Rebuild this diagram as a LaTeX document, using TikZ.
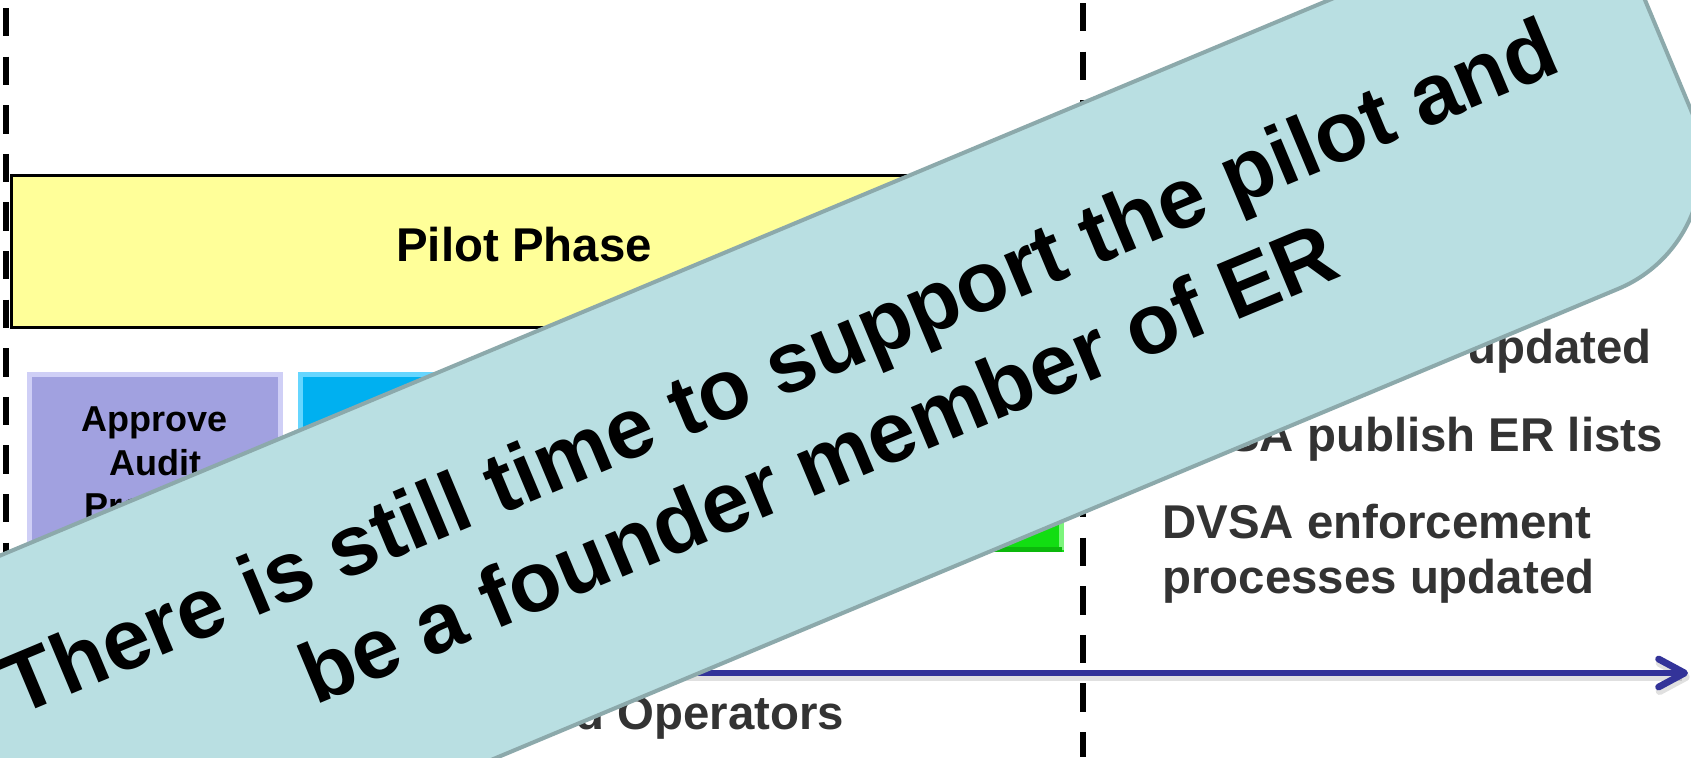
\documentclass[tikz,border=0pt]{standalone}
\usepackage{fontspec}
\setmainfont{Liberation Sans}
\usetikzlibrary{arrows.meta}
\definecolor{phaseyellow}{HTML}{FFFF99}
\definecolor{approvepurple}{HTML}{A1A1E0}
\definecolor{approvelight}{HTML}{CFCFF6}
\definecolor{approvedark}{HTML}{8C8CCC}
\definecolor{stepblue}{HTML}{00B0F0}
\definecolor{steplightblue}{HTML}{66D6FF}
\definecolor{stepdarkblue}{HTML}{0096D0}
\definecolor{stepgreen}{HTML}{12DE12}
\definecolor{steplightgreen}{HTML}{7CF57C}
\definecolor{stepdarkgreen}{HTML}{0CB80C}
\definecolor{bannerfill}{HTML}{B9DFE2}
\definecolor{bannerline}{HTML}{8CA9AB}
\definecolor{notegray}{HTML}{333333}
\definecolor{axisblue}{HTML}{333399}
\newcommand\ctrline[1]{\hbox to 0pt{\hss #1\hss}}
\begin{document}
\begin{tikzpicture}[x=0.5pt,y=-0.5pt,
  sepline/.style={line width=3.25pt, dash pattern=on 14.2pt off 10.1pt},
  phasebox/.style={draw=black, line width=1.5pt, fill=phaseyellow, minimum width=513pt,
    minimum height=76pt, inner sep=0pt, text height=17pt, text depth=6.3pt,
    font=\fontsize{23.7}{27.5}\selectfont\bfseries},
  stepbox/.style={inner sep=0pt, minimum height=90pt, font=\fontsize{18}{21.65}\selectfont\bfseries},
  bevellight/.style={line width=2.5pt},
  beveldark/.style={line width=2.5pt},
  note/.style={anchor=base west, inner sep=0pt, text=notegray, font=\fontsize{23.7}{27.5}\selectfont\bfseries},
  timeline/.style={draw=axisblue, line width=3.4pt, -{Straight Barb[round,length=13pt,width=14pt]}},
  timelineshadow/.style={draw=black, opacity=0.12, line width=4pt, -{Straight Barb[round,length=13pt,width=14pt]}},
  banner/.style={fill=bannerfill, draw=bannerline, line width=2pt, line join=round},
  bannertext/.style={rotate=22.69, anchor=base, inner sep=0pt, font=\fontsize{42.7}{50}\selectfont\bfseries}
]
\useasboundingbox (0,0) rectangle (1691,757);
\clip (0,0) rectangle (1691,757);
\fill[white] (0,0) rectangle (1691,757);

% dashed separators
\coordinate (sepLtop) at (6,8);
\coordinate (sepLbot) at (6,757);
\coordinate (sepRtop) at (1083,3);
\coordinate (sepRbot) at (1083,757);
\draw[sepline] (sepLtop) -- (sepLbot);
\draw[sepline] (sepRtop) -- (sepRbot);

% pilot phase bar
\node[phasebox] (pilot) at (524,251) {Pilot Phase};

% step boxes
\node[stepbox, fill=approvepurple, minimum width=128pt, text height=10pt, text depth=40.3pt] (approve) at (155,462)
  {\vtop{\ctrline{Approve}\ctrline{Audit}\ctrline{Process}}};
\node[stepbox, fill=stepblue, minimum width=191pt] (stepB) at (489,462) {};
\node[stepbox, fill=stepgreen, minimum width=184.5pt] (stepC) at (879.5,462) {};

\draw[bevellight, draw=approvelight] ([shift={(2.5,-2.5)}]approve.south west) -- ([shift={(2.5,2.5)}]approve.north west)
  -- ([shift={(-2.5,2.5)}]approve.north east) -- ([shift={(-2.5,-2.5)}]approve.south east);
\draw[beveldark, draw=approvedark] ([shift={(2.5,-2.5)}]approve.south west) -- ([shift={(-2.5,-2.5)}]approve.south east);
\draw[bevellight, draw=steplightblue] ([shift={(2.5,-2.5)}]stepB.south west) -- ([shift={(2.5,2.5)}]stepB.north west)
  -- ([shift={(-2.5,2.5)}]stepB.north east) -- ([shift={(-2.5,-2.5)}]stepB.south east);
\draw[beveldark, draw=stepdarkblue] ([shift={(2.5,-2.5)}]stepB.south west) -- ([shift={(-2.5,-2.5)}]stepB.south east);
\draw[bevellight, draw=steplightgreen] ([shift={(2.5,-2.5)}]stepC.south west) -- ([shift={(2.5,2.5)}]stepC.north west)
  -- ([shift={(-2.5,2.5)}]stepC.north east) -- ([shift={(-2.5,-2.5)}]stepC.south east);
\draw[beveldark, draw=stepdarkgreen] ([shift={(2.5,-2.5)}]stepC.south west) -- ([shift={(-2.5,-2.5)}]stepC.south east);

% notes
\node[note] (note1) at (1467,363) {updated};
\node[note] (note2) at (1162,451.7) {DVSA publish ER lists};
\node[note] (note3) at (1162,538.3) {\vtop{\hbox{DVSA enforcement}\hbox{processes updated}}};
\node[note] (note4) at (575,729) {d Operators};

% timeline arrow
\coordinate (axisL) at (11,673);
\coordinate (axisR) at (1688,673);
\draw[timelineshadow, transform canvas={shift={(0.8pt,-2pt)}}] (axisL) -- (axisR);
\draw[timeline] (axisL) -- (axisR);

% banner
\coordinate (bTL) at (-300,681);
\coordinate (bTR) at (1598,-112.4);
\coordinate (bT1) at (1691.3,110.8);
\coordinate (bC1) at (1720.3,180.1);
\coordinate (bC2) at (1687.6,259.8);
\coordinate (bT2) at (1618.3,288.8);
\coordinate (bBL) at (-154.2,1029.7);
\draw[banner] (bTL) -- (bTR) -- (bT1) .. controls (bC1) and (bC2) .. (bT2) -- (bBL) -- cycle;
\node[bannertext] (msg1) at (790.5,393.5) {There is still time to support the pilot and};
\node[bannertext] (msg2) at (829.5,490.5) {be a founder member of ER};
\end{tikzpicture}
\end{document}
